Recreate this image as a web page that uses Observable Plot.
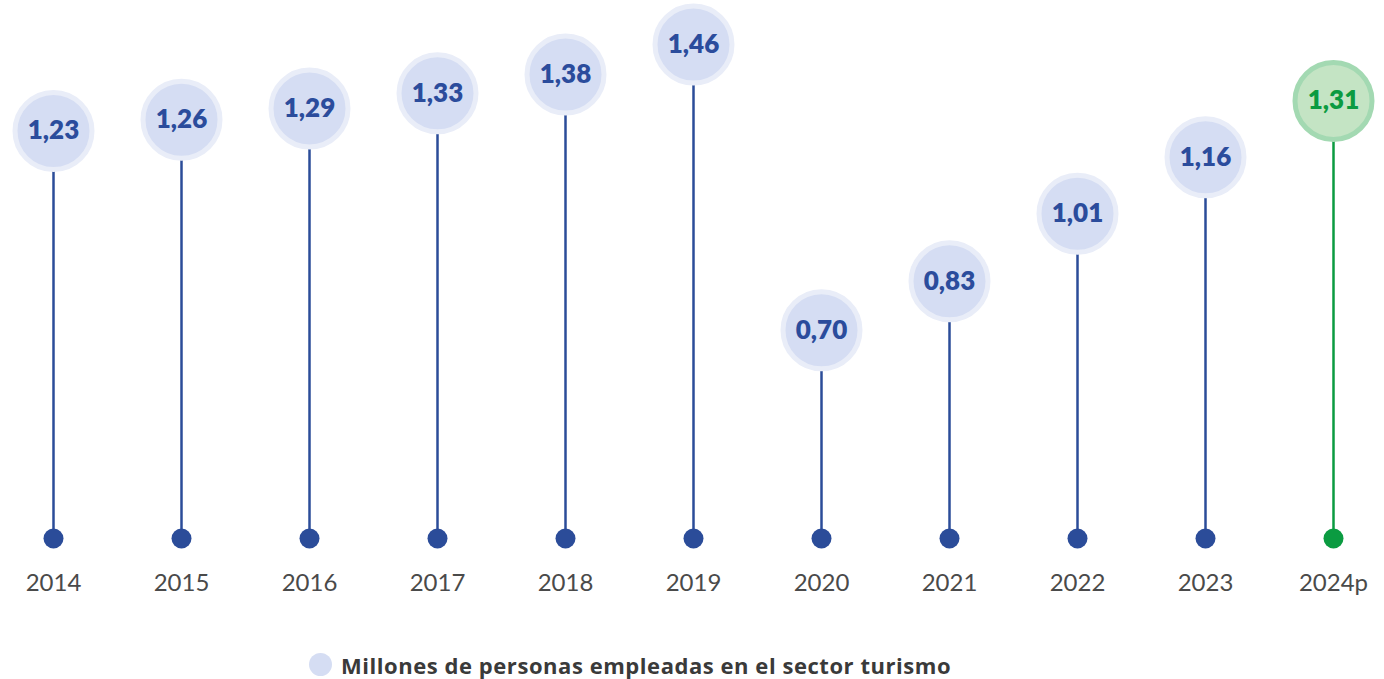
<!DOCTYPE html>
<html>
<head>
<meta charset="utf-8">
<script src="https://cdn.jsdelivr.net/npm/d3@7"></script>
<script src="https://cdn.jsdelivr.net/npm/@observablehq/plot@0.6"></script>
<style>
  html, body { margin: 0; padding: 0; background: #fff; }
  body { width: 1384px; height: 679px; overflow: hidden; font-family: Lato, "Open Sans", sans-serif; }
  #legend { height: 39px; display: flex; align-items: center; margin-left: 309px; margin-top: 5px; }
  #legend .sw { width: 23px; height: 23px; border-radius: 50%; background: #d5ddf3; margin-right: 9px; flex: none; }
  #legend .lb { font-family: "Open Sans", sans-serif; font-size: 22px; font-weight: 700; color: #3a3a3a; letter-spacing: 0.55px; white-space: nowrap; }
</style>
</head>
<body>
<div id="chart"></div>
<div id="legend"><div class="sw"></div><div class="lb" id="lb"></div></div>
<script>
const years = ["2014","2015","2016","2017","2018","2019","2020","2021","2022","2023","2024p"];
const values = [1.23, 1.26, 1.29, 1.33, 1.38, 1.46, 0.70, 0.83, 1.01, 1.16, 1.31];
const legendLabel = "Millones de personas empleadas en el sector turismo";
const yFloor = 0.146;
const yTop = 1.46;

const blue = {line: "#2b4c99", text: "#2b4c9c", inner: "#d5ddf3", halo: "#e9edf8"};
const green = {line: "#0b9b41", text: "#0b9b41", inner: "#c4e4c4", halo: "#a3d9b2"};

const data = years.map((y, i) => ({year: y, value: values[i], projected: y.endsWith("p")}));
const pal = d => d.projected ? green : blue;
const fmt = d3.formatLocale({decimal: ",", thousands: ".", grouping: [3], currency: ["", ""]}).format(".2f");

document.getElementById("lb").textContent = legendLabel;

const chart = Plot.plot({
  width: 1384,
  height: 640,
  marginTop: 44,
  marginBottom: 102,
  marginLeft: 52,
  marginRight: 51,
  style: {fontFamily: "Lato, 'Open Sans', sans-serif", background: "transparent", overflow: "visible"},
  x: {type: "point", domain: years, padding: 0, label: null},
  y: {domain: [yFloor, yTop], axis: null},
  marks: [
    Plot.axisX({tickSize: 0, tickPadding: 35, fontSize: 24, color: "#4a4a4a", label: null}),
    Plot.ruleX(data, {x: "year", y1: yFloor, y2: "value", stroke: d => pal(d).line, strokeWidth: 2.5}),
    Plot.dot(data, {x: "year", y: yFloor, r: 10, fill: d => pal(d).line}),
    Plot.dot(data, {x: "year", y: "value", r: 38.5, fill: d => pal(d).inner, stroke: d => pal(d).halo, strokeWidth: 5}),
    Plot.text(data, {x: "year", y: "value", text: d => fmt(d.value), fontSize: 26, fontWeight: 800, fill: d => pal(d).text})
  ]
});
document.getElementById("chart").appendChild(chart);
</script>
</body>
</html>
